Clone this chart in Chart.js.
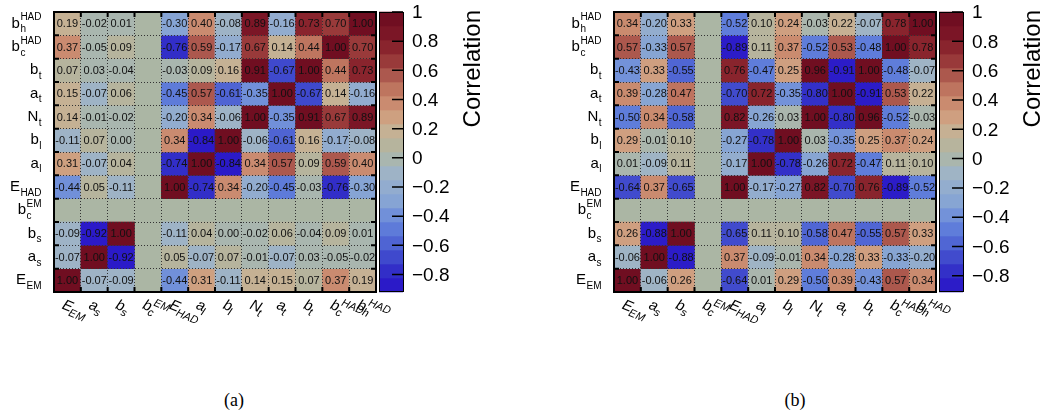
<!DOCTYPE html>
<html>
<head>
<meta charset="utf-8">
<script src="https://cdn.jsdelivr.net/npm/chart.js@4.4.1/dist/chart.umd.min.js"></script>
<style>
    body { margin: 0; background: #fff; width: 1042px; height: 416px; position: relative; overflow: hidden; }
    canvas { position: absolute; top: 0; }
    #chartA { left: 0; }
    #chartB { left: 560px; }
    .cap { position: absolute; top: 389px; width: 60px; text-align: center; font-family: "Liberation Serif", "DejaVu Serif", serif; font-size: 18px; line-height: 22px; }
</style>
</head>
<body>
<canvas id="chartA" width="482" height="360"></canvas>
<canvas id="chartB" width="482" height="360"></canvas>
<div class="cap" style="left:204px">(a)</div>
<div class="cap" style="left:765px">(b)</div>
<script>
// variable names, bottom to top on y and left to right on x
const varNames = ['E_EM', 'a_s', 'b_s', 'b_c^EM', 'E_HAD', 'a_l', 'b_l', 'N_t', 'a_t', 'b_t', 'b_c^HAD', 'b_h^HAD'];

// rows as they appear in the figure, top (b_h^HAD) to bottom (E_EM)
const corrA = [
    [0.19, -0.02, 0.01, null, -0.30, 0.40, -0.08, 0.89, -0.16, 0.73, 0.70, 1.00],
    [0.37, -0.05, 0.09, null, -0.76, 0.59, -0.17, 0.67, 0.14, 0.44, 1.00, 0.70],
    [0.07, 0.03, -0.04, null, -0.03, 0.09, 0.16, 0.91, -0.67, 1.00, 0.44, 0.73],
    [0.15, -0.07, 0.06, null, -0.45, 0.57, -0.61, -0.35, 1.00, -0.67, 0.14, -0.16],
    [0.14, -0.01, -0.02, null, -0.20, 0.34, -0.06, 1.00, -0.35, 0.91, 0.67, 0.89],
    [-0.11, 0.07, 0.00, null, 0.34, -0.84, 1.00, -0.06, -0.61, 0.16, -0.17, -0.08],
    [0.31, -0.07, 0.04, null, -0.74, 1.00, -0.84, 0.34, 0.57, 0.09, 0.59, 0.40],
    [-0.44, 0.05, -0.11, null, 1.00, -0.74, 0.34, -0.20, -0.45, -0.03, -0.76, -0.30],
    [null, null, null, null, null, null, null, null, null, null, null, null],
    [-0.09, -0.92, 1.00, null, -0.11, 0.04, 0.00, -0.02, 0.06, -0.04, 0.09, 0.01],
    [-0.07, 1.00, -0.92, null, 0.05, -0.07, 0.07, -0.01, -0.07, 0.03, -0.05, -0.02],
    [1.00, -0.07, -0.09, null, -0.44, 0.31, -0.11, 0.14, 0.15, 0.07, 0.37, 0.19]
];

const corrB = [
    [0.34, -0.20, 0.33, null, -0.52, 0.10, 0.24, -0.03, 0.22, -0.07, 0.78, 1.00],
    [0.57, -0.33, 0.57, null, -0.89, 0.11, 0.37, -0.52, 0.53, -0.48, 1.00, 0.78],
    [-0.43, 0.33, -0.55, null, 0.76, -0.47, 0.25, 0.96, -0.91, 1.00, -0.48, -0.07],
    [0.39, -0.28, 0.47, null, -0.70, 0.72, -0.35, -0.80, 1.00, -0.91, 0.53, 0.22],
    [-0.50, 0.34, -0.58, null, 0.82, -0.26, 0.03, 1.00, -0.80, 0.96, -0.52, -0.03],
    [0.29, -0.01, 0.10, null, -0.27, -0.78, 1.00, 0.03, -0.35, 0.25, 0.37, 0.24],
    [0.01, -0.09, 0.11, null, -0.17, 1.00, -0.78, -0.26, 0.72, -0.47, 0.11, 0.10],
    [-0.64, 0.37, -0.65, null, 1.00, -0.17, -0.27, 0.82, -0.70, 0.76, -0.89, -0.52],
    [null, null, null, null, null, null, null, null, null, null, null, null],
    [0.26, -0.88, 1.00, null, -0.65, 0.11, 0.10, -0.58, 0.47, -0.55, 0.57, 0.33],
    [-0.06, 1.00, -0.88, null, 0.37, -0.09, -0.01, 0.34, -0.28, 0.33, -0.33, -0.20],
    [1.00, -0.06, 0.26, null, -0.64, 0.01, 0.29, -0.50, 0.39, -0.43, 0.57, 0.34]
];

const zTicks = [1, 0.8, 0.6, 0.4, 0.2, 0, -0.2, -0.4, -0.6, -0.8];
const zTitle = 'Correlation';
const nContours = 20;

// palette stops: value, r, g, b
const paletteStops = [
    [-0.92, 40, 16, 200],
    [-0.75, 52, 52, 200],
    [-0.6, 76, 96, 210],
    [-0.45, 100, 132, 220],
    [-0.3, 134, 164, 212],
    [-0.15, 152, 176, 204],
    [-0.05, 165, 183, 190],
    [0.02, 172, 182, 165],
    [0.1, 184, 180, 156],
    [0.2, 200, 176, 146],
    [0.3, 208, 156, 124],
    [0.4, 200, 134, 108],
    [0.5, 186, 110, 90],
    [0.6, 166, 78, 72],
    [0.7, 146, 46, 50],
    [0.85, 124, 22, 38],
    [1.0, 106, 10, 30]
];
const blankColor = '#abb6a4';
const sans = '"Liberation Sans", Arial, sans-serif';

function paletteColor(v) {
    if (v <= paletteStops[0][0]) return 'rgb(' + paletteStops[0].slice(1).join(',') + ')';
    for (let i = 1; i < paletteStops.length; i++) {
        const a = paletteStops[i - 1], b = paletteStops[i];
        if (v <= b[0]) {
            const t = (v - a[0]) / (b[0] - a[0]);
            const c = [1, 2, 3].map(j => Math.round(a[j] + t * (b[j] - a[j])));
            return 'rgb(' + c.join(',') + ')';
        }
    }
    return 'rgb(' + paletteStops[paletteStops.length - 1].slice(1).join(',') + ')';
}

function bandIndex(v, zmin, zmax) {
    const k = Math.floor((v - zmin) / ((zmax - zmin) / nContours));
    return Math.max(0, Math.min(nContours - 1, k));
}

function bandColor(v, zmin, zmax) {
    const step = (zmax - zmin) / nContours;
    return paletteColor(zmin + (bandIndex(v, zmin, zmax) + 0.5) * step);
}

function parseLabel(s) {
    const m = s.match(/^([^_^]+)(?:_([^_^]+))?(?:\^(.+))?$/);
    return { base: m[1], sub: m[2] || '', sup: m[3] || '' };
}

function fmtTick(v) {
    const s = Math.abs(v).toString();
    return v < 0 ? '\u2212' + s : s;
}

const matrixPlugin = {
    id: 'matrixPlugin',
    beforeDatasetsDraw(chart) {
        const a = chart.chartArea, ctx = chart.ctx;
        ctx.save();
        ctx.fillStyle = blankColor;
        ctx.fillRect(a.left, a.top, a.right - a.left, a.bottom - a.top);
        ctx.restore();
    },
    afterDraw(chart) {
        const ctx = chart.ctx, a = chart.chartArea;
        const xs = chart.scales.x, ys = chart.scales.y, zs = chart.scales.z;
        const zmin = zs.min, zmax = zs.max;
        ctx.save();

        // cell values
        ctx.font = '11px ' + sans;
        ctx.fillStyle = '#111';
        ctx.textAlign = 'center';
        ctx.textBaseline = 'middle';
        chart.data.datasets.forEach(function (ds, i) {
            chart.getDatasetMeta(i).data.forEach(function (bar, c) {
                const v = ds.values[c];
                if (v === null) return;
                const p = bar.getProps(['x', 'y', 'base'], true);
                ctx.fillText(v.toFixed(2), p.x, (p.y + p.base) / 2 + 0.5);
            });
        });

        // frame and ticks
        ctx.strokeStyle = '#000';
        ctx.lineWidth = 2;
        ctx.strokeRect(a.left, a.top, a.right - a.left, a.bottom - a.top);
        ctx.beginPath();
        for (let c = 0; c <= varNames.length; c++) {
            const bx = xs.getPixelForValue(c - 0.5);
            ctx.moveTo(bx, a.top); ctx.lineTo(bx, a.top + 5);
            ctx.moveTo(bx, a.bottom); ctx.lineTo(bx, a.bottom - 5);
        }
        for (let k = 0; k <= varNames.length; k++) {
            const by = ys.getPixelForValue(k);
            ctx.moveTo(a.left, by); ctx.lineTo(a.left + 5, by);
            ctx.moveTo(a.right, by); ctx.lineTo(a.right - 5, by);
        }
        ctx.stroke();

        // y labels
        ctx.textAlign = 'left';
        ctx.textBaseline = 'alphabetic';
        ctx.fillStyle = '#000';
        varNames.forEach(function (name, k) {
            const lb = parseLabel(name);
            const yc = ys.getPixelForValue(k + 0.5);
            ctx.font = '15px ' + sans;
            const wb = ctx.measureText(lb.base).width;
            ctx.font = '10px ' + sans;
            const ws = Math.max(ctx.measureText(lb.sub).width, ctx.measureText(lb.sup).width);
            const x0 = a.left - 13 - ws - wb;
            const yb = yc + 4;
            ctx.font = '15px ' + sans;
            ctx.fillText(lb.base, x0, yb);
            ctx.font = '10px ' + sans;
            if (lb.sub) ctx.fillText(lb.sub, x0 + wb + 0.5, yb + 4.5);
            if (lb.sup) ctx.fillText(lb.sup, x0 + wb + 0.5, yb - 7.5);
        });

        // x labels, italic and tilted
        varNames.forEach(function (name, c) {
            const lb = parseLabel(name);
            const cx = xs.getPixelForValue(c);
            ctx.save();
            ctx.translate(cx - 2, a.bottom + 6);
            ctx.rotate(0.4);
            ctx.font = 'italic 15px ' + sans;
            const wb = ctx.measureText(lb.base).width;
            ctx.fillText(lb.base, 0, 11);
            ctx.font = 'italic 11px ' + sans;
            if (lb.sub) ctx.fillText(lb.sub, wb - 1, 15);
            if (lb.sup) ctx.fillText(lb.sup, wb + 1, 4);
            ctx.restore();
        });

        // colour bar
        const barL = a.right + 3, barW = 24;
        const step = (zmax - zmin) / nContours;
        for (let k = 0; k < nContours; k++) {
            const y0 = zs.getPixelForValue(zmin + (k + 1) * step);
            const y1 = zs.getPixelForValue(zmin + k * step);
            ctx.fillStyle = paletteColor(zmin + (k + 0.5) * step);
            ctx.fillRect(barL, y0 - 0.3, barW, y1 - y0 + 0.6);
        }
        ctx.lineWidth = 1;
        ctx.strokeStyle = '#000';
        ctx.strokeRect(barL + 0.5, a.top + 0.5, barW, a.bottom - a.top - 1);
        ctx.lineWidth = 1.5;
        ctx.beginPath();
        zTicks.forEach(function (t) {
            const ty = zs.getPixelForValue(t);
            ctx.moveTo(barL + barW - 11, ty);
            ctx.lineTo(barL + barW, ty);
        });
        ctx.stroke();

        ctx.fillStyle = '#000';
        ctx.font = '19px ' + sans;
        ctx.textBaseline = 'middle';
        ctx.textAlign = 'left';
        zTicks.forEach(function (t) {
            ctx.fillText(fmtTick(t), barL + barW + 9, zs.getPixelForValue(t) + 1);
        });

        ctx.save();
        ctx.translate(a.right + 104, a.top - 2);
        ctx.rotate(-Math.PI / 2);
        ctx.font = '24px ' + sans;
        ctx.textAlign = 'right';
        ctx.textBaseline = 'alphabetic';
        ctx.fillText(zTitle, 0, 0);
        ctx.restore();

        ctx.restore();
    }
};

function matrixChart(canvas, matrix) {
    const flat = matrix.flat().filter(v => v !== null);
    const zmin = Math.min.apply(null, flat);
    const zmax = Math.max.apply(null, flat);
    const n = varNames.length;

    // one dataset per row, each cell a floating bar [k, k+1] on the y axis
    const datasets = matrix.map(function (row, r) {
        const k = n - 1 - r;
        return {
            data: row.map(v => v === null ? null : [k, k + 1]),
            values: row,
            backgroundColor: row.map(v => v === null ? 'rgba(0,0,0,0)' : bandColor(v, zmin, zmax)),
            borderWidth: 0,
            grouped: false,
            barPercentage: 1,
            categoryPercentage: 1
        };
    });

    return new Chart(document.getElementById(canvas), {
        type: 'bar',
        data: {
            labels: varNames,
            datasets: datasets
        },
        options: {
            responsive: false,
            animation: false,
            events: [],
            layout: {
                padding: { left: 54, top: 12, right: 106, bottom: 68 }
            },
            plugins: {
                legend: { display: false },
                tooltip: { enabled: false }
            },
            scales: {
                x: {
                    type: 'category',
                    offset: true,
                    z: 1,
                    grid: { color: '#333', lineWidth: 1, drawTicks: false, offset: true, z: 1 },
                    border: { display: false, dash: [1, 2] },
                    ticks: { display: false },
                    afterFit: function (s) { s.height = 0; }
                },
                y: {
                    type: 'linear',
                    min: 0,
                    max: n,
                    z: 1,
                    grid: { color: '#333', lineWidth: 1, drawTicks: false, z: 1 },
                    border: { display: false, dash: [1, 2] },
                    ticks: { display: false, stepSize: 1 },
                    afterFit: function (s) { s.width = 0; }
                },
                z: {
                    type: 'linear',
                    axis: 'y',
                    position: 'right',
                    display: false,
                    min: zmin,
                    max: zmax
                }
            }
        },
        plugins: [matrixPlugin]
    });
}

matrixChart('chartA', corrA);
matrixChart('chartB', corrB);
</script>
</body>
</html>
